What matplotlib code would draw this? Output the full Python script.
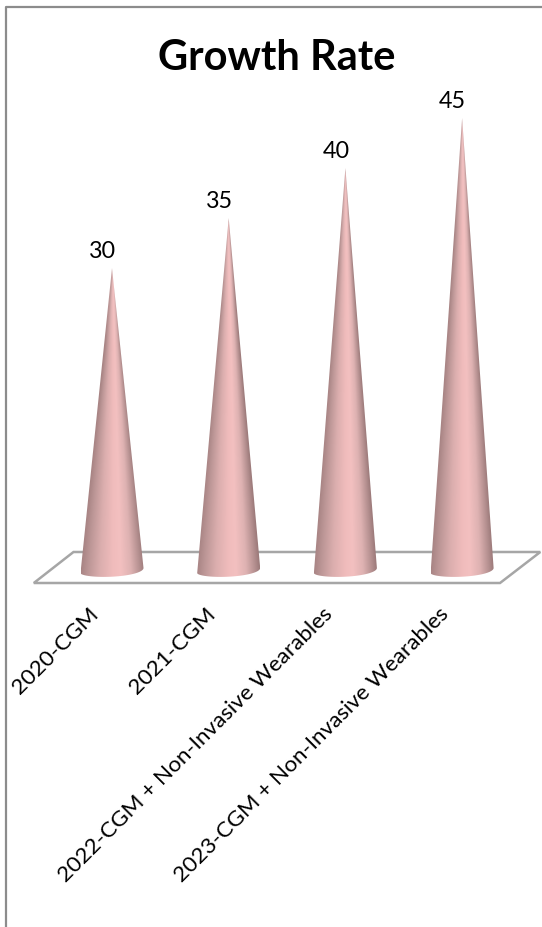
import numpy as np
import matplotlib
matplotlib.use('Agg')
import matplotlib.pyplot as plt
from matplotlib.colors import LinearSegmentedColormap
from matplotlib.patches import Polygon, PathPatch
from matplotlib.path import Path

categories = ['2020-CGM', '2021-CGM', '2022-CGM + Non-Invasive Wearables',
              '2023-CGM + Non-Invasive Wearables']
growth = [30, 35, 40, 45]

W, H = 542, 927
X0, DX = 112.0, 116.7   # pixel of first category, pixels per category
Y0, DY = 568.0, 10.0    # pixel of value 0, pixels per unit
HALF = 31.5 / DX        # cone base half width

plt.rcParams['font.family'] = ['Lato', 'DejaVu Sans']

fig = plt.figure(figsize=(W / 100, H / 100), dpi=100)
ax = fig.add_axes([0, 0, 1, 1])
ax.set_xlim((0 - X0) / DX, (W - X0) / DX)
ax.set_ylim((Y0 - H) / DY, Y0 / DY)
ax.axis('off')

# chart frame
ax.plot([0.011, 0.011, 1.0], [0.0, 0.992, 0.992], transform=ax.transAxes,
        color='#8c8c8c', lw=1.6, clip_on=False)

# floor
floor = [(-0.67, -1.5), (-0.33, 1.6), (3.67, 1.6), (3.325, -1.5)]
ax.add_patch(Polygon(floor, closed=True, fc='white', ec='#a6a6a6', lw=1.8, zorder=1))

cone_cmap = LinearSegmentedColormap.from_list('cone', [
    (0.0, '#a88484'), (0.12, '#bd9797'), (0.3, '#dbaeae'), (0.5, '#f0bcbc'),
    (0.62, '#f3c0c0'), (0.78, '#deb2b2'), (0.92, '#b59090'), (1.0, '#9c7a7a')])

t = np.linspace(0, np.pi, 40)
for i, val in enumerate(growth):
    # base arc runs left to right, slightly tilted
    bx = i - HALF * np.cos(t)
    by = -0.5 + 0.5 * t / np.pi - 0.62 * np.sin(t)
    verts = list(zip(bx, by)) + [(i, val), (bx[0], by[0])]
    codes = [Path.MOVETO] + [Path.LINETO] * (len(verts) - 2) + [Path.CLOSEPOLY]
    clip = PathPatch(Path(verts, codes), fc='none', ec='none', transform=ax.transData)
    ax.add_patch(clip)

    # the gradient follows the cone, so it narrows toward the tip
    yy = np.linspace(-1.2, val, 160)
    xx = np.linspace(-1, 1, 160)
    frac = np.clip((val - yy) / val, 0.002, None)
    u = np.clip(xx[None, :] / frac[:, None] * 0.5 + 0.5, 0, 1)
    rgba = cone_cmap(u)
    # colours wash out toward the tip
    fade = np.clip(1 - frac[:, None, None] * 4, 0, 1) * 0.45
    rgba[..., :3] = rgba[..., :3] * (1 - fade) + np.array([0.95, 0.78, 0.78]) * fade
    im = ax.imshow(rgba, extent=[i - HALF, i + HALF, -1.2, val], origin='lower',
                   aspect='auto', zorder=2, interpolation='bilinear')
    im.set_clip_path(clip)

    ax.text(i - 0.08, val + 0.55, str(val), fontsize=16.8,
            ha='center', va='bottom', color='black', zorder=3)
    ax.text(i - 0.2, -3.6, categories[i], fontsize=16.2, rotation=45,
            rotation_mode='anchor', ha='right', va='top', color='black')

ax.set_xlim((0 - X0) / DX, (W - X0) / DX)
ax.set_ylim((Y0 - H) / DY, Y0 / DY)

ax.text(0.51, 0.937, 'Growth Rate', transform=ax.transAxes, fontsize=30,
        fontweight='bold', ha='center', va='center', color='black')

fig.savefig('out.png', dpi=100)
